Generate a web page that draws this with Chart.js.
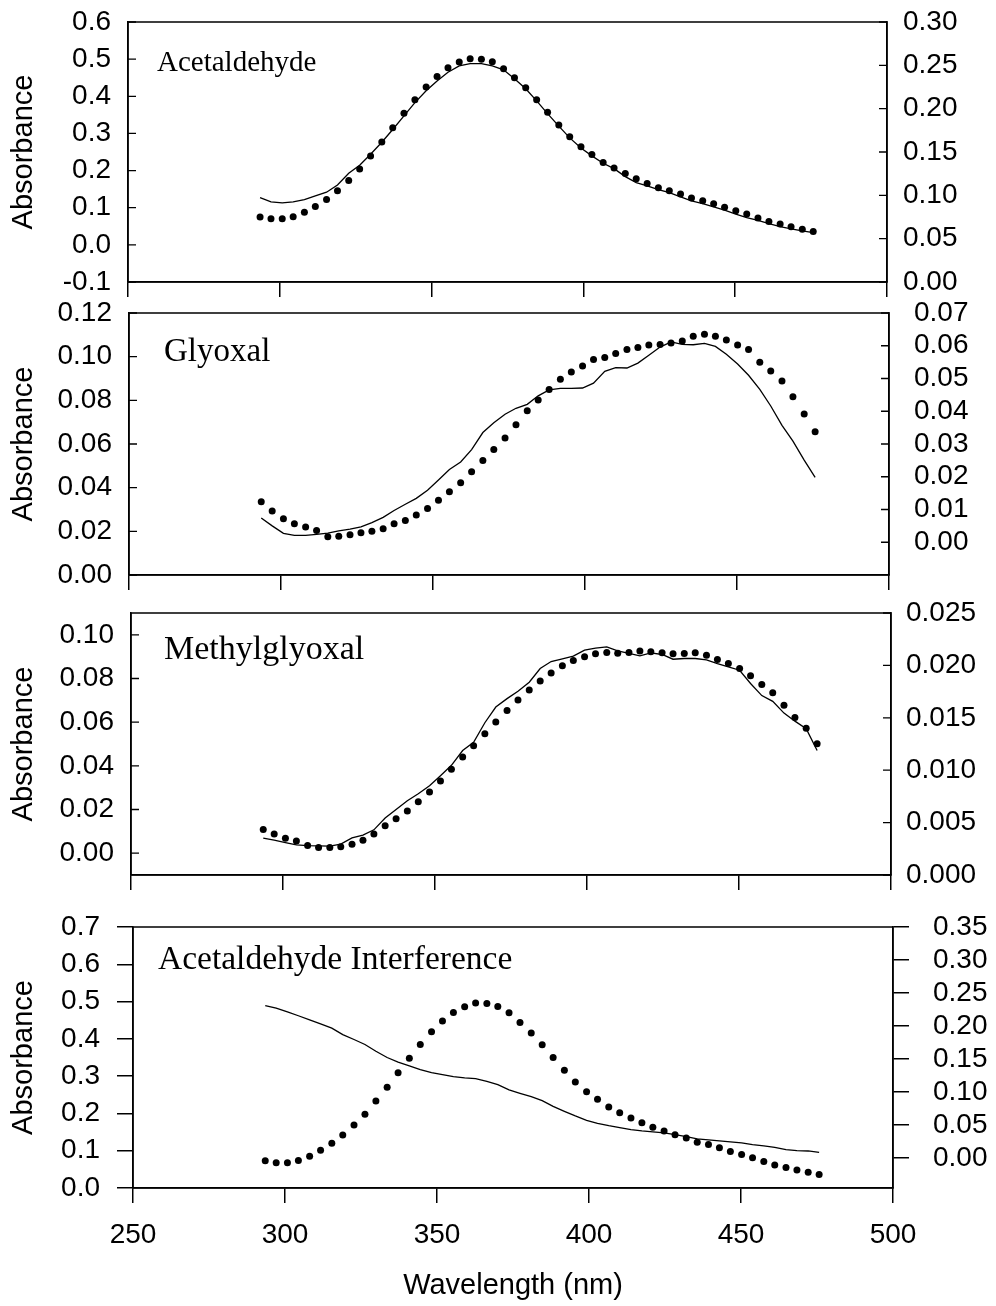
<!DOCTYPE html>
<html>
<head>
<meta charset="utf-8">
<title>Absorbance spectra</title>
<script src="https://cdn.jsdelivr.net/npm/chart.js@4.4.1/dist/chart.umd.min.js"></script>
<style>
  body { margin: 0; background: #fff; }
  #wrap { position: relative; width: 996px; height: 1306px; overflow: hidden; }
  canvas { position: absolute; left: 0; }
</style>
</head>
<body>
<div id="wrap">
  <canvas id="p1"></canvas>
  <canvas id="p2"></canvas>
  <canvas id="p3"></canvas>
  <canvas id="p4"></canvas>
</div>
<script>
// wavelength of every sample (nm)
const wavelengths = [
  293.5, 297.1, 300.8, 304.4, 308.1, 311.7, 315.4, 319.0, 322.7, 326.3,
  329.9, 333.6, 337.2, 340.9, 344.5, 348.2, 351.8, 355.4, 359.1, 362.7,
  366.4, 370.0, 373.7, 377.3, 381.0, 384.6, 388.2, 391.9, 395.5, 399.2,
  402.8, 406.5, 410.1, 413.8, 417.4, 421.0, 424.7, 428.3, 432.0, 435.6,
  439.3, 442.9, 446.5, 450.2, 453.8, 457.5, 461.1, 464.8, 468.4, 472.1,
  475.7
];

// Acetaldehyde: dots on left axis, line on right axis
const acetDots = [
  0.075, 0.070, 0.070, 0.076, 0.088, 0.103, 0.122, 0.146, 0.173, 0.204,
  0.239, 0.277, 0.315, 0.354, 0.391, 0.425, 0.453, 0.477, 0.492, 0.501,
  0.500, 0.493, 0.474, 0.450, 0.423, 0.391, 0.357, 0.323, 0.291, 0.264,
  0.243, 0.222, 0.207, 0.192, 0.178, 0.165, 0.154, 0.146, 0.137, 0.126,
  0.119, 0.111, 0.101, 0.092, 0.083, 0.072, 0.063, 0.056, 0.049, 0.042,
  0.036
];
const acetLine = [
  0.0973, 0.0924, 0.0912, 0.0924, 0.0950, 0.0993, 0.1036, 0.1120, 0.1255, 0.1347,
  0.1474, 0.1613, 0.1760, 0.1917, 0.2070, 0.2206, 0.2320, 0.2420, 0.2494, 0.2520,
  0.2520, 0.2494, 0.2448, 0.2344, 0.2229, 0.2090, 0.1943, 0.1798, 0.1663, 0.1547,
  0.1455, 0.1370, 0.1308, 0.1216, 0.1147, 0.1109, 0.1066, 0.1031, 0.0982, 0.0935,
  0.0904, 0.0866, 0.0828, 0.0782, 0.0743, 0.0712, 0.0673, 0.0639, 0.0612, 0.0589,
  0.0569
];

// Glyoxal
const glyDots = [
  0.0335, 0.0293, 0.0258, 0.0235, 0.0220, 0.0204, 0.0175, 0.0177, 0.0184, 0.0194,
  0.0200, 0.0212, 0.0235, 0.0250, 0.0275, 0.0305, 0.0342, 0.0381, 0.0422, 0.0473,
  0.0525, 0.0575, 0.0627, 0.0688, 0.0752, 0.0802, 0.0850, 0.0896, 0.0930, 0.0957,
  0.0987, 0.0996, 0.1015, 0.1033, 0.1042, 0.1053, 0.1056, 0.1063, 0.1072, 0.1094,
  0.1103, 0.1094, 0.1076, 0.1054, 0.1033, 0.0975, 0.0934, 0.0889, 0.0816, 0.0737,
  0.0656
];
const glyLine = [
  0.0074, 0.0050, 0.0027, 0.0021, 0.0021, 0.0024, 0.0028, 0.0035, 0.0040, 0.0047,
  0.0060, 0.0076, 0.0097, 0.0116, 0.0134, 0.0159, 0.0190, 0.0222, 0.0245, 0.0283,
  0.0335, 0.0365, 0.0391, 0.0409, 0.0421, 0.0447, 0.0465, 0.0470, 0.0470, 0.0471,
  0.0486, 0.0522, 0.0533, 0.0532, 0.0547, 0.0571, 0.0596, 0.0612, 0.0604, 0.0603,
  0.0607, 0.0598, 0.0574, 0.0544, 0.0510, 0.0467, 0.0416, 0.0357, 0.0309, 0.0251,
  0.0198
];

// Methylglyoxal
const mglyDots = [
  0.0108, 0.0088, 0.0068, 0.0056, 0.0035, 0.0026, 0.0026, 0.0029, 0.0041, 0.0059,
  0.0088, 0.0126, 0.0158, 0.0193, 0.0236, 0.0280, 0.0330, 0.0384, 0.0440, 0.0492,
  0.0547, 0.0601, 0.0653, 0.0702, 0.0747, 0.0789, 0.0825, 0.0858, 0.0883, 0.0900,
  0.0913, 0.0919, 0.0916, 0.0919, 0.0926, 0.0922, 0.0918, 0.0913, 0.0915, 0.0918,
  0.0907, 0.0887, 0.0869, 0.0846, 0.0813, 0.0773, 0.0735, 0.0677, 0.0621, 0.0572,
  0.0501
];
const mglyLine = [
  0.00351, 0.00332, 0.00310, 0.00287, 0.00281, 0.00278, 0.00275, 0.00294, 0.00354, 0.00380,
  0.00431, 0.00543, 0.00626, 0.00709, 0.00776, 0.00852, 0.00948, 0.01047, 0.01188, 0.01267,
  0.01453, 0.01603, 0.01683, 0.01753, 0.01839, 0.01970, 0.02037, 0.02062, 0.02088, 0.02146,
  0.02165, 0.02177, 0.02139, 0.02114, 0.02091, 0.02120, 0.02104, 0.02059, 0.02066, 0.02066,
  0.02053, 0.02018, 0.01986, 0.01954, 0.01827, 0.01712, 0.01657, 0.01545, 0.01468, 0.01396,
  0.01188
];

// Acetaldehyde interference
const interfDots = [
  0.073, 0.068, 0.068, 0.074, 0.085, 0.101, 0.120, 0.142, 0.169, 0.198,
  0.233, 0.270, 0.309, 0.348, 0.385, 0.419, 0.448, 0.471, 0.486, 0.496,
  0.495, 0.487, 0.470, 0.444, 0.416, 0.384, 0.350, 0.316, 0.284, 0.258,
  0.238, 0.217, 0.202, 0.188, 0.175, 0.163, 0.153, 0.143, 0.134, 0.123,
  0.117, 0.108, 0.098, 0.090, 0.081, 0.071, 0.062, 0.055, 0.048, 0.042,
  0.036
];
const interfLine = [
  0.2310, 0.2270, 0.2215, 0.2155, 0.2094, 0.2033, 0.1967, 0.1870, 0.1795, 0.1720,
  0.1618, 0.1522, 0.1451, 0.1396, 0.1340, 0.1294, 0.1264, 0.1234, 0.1214, 0.1203,
  0.1162, 0.1112, 0.1032, 0.0980, 0.0930, 0.0870, 0.0783, 0.0707, 0.0637, 0.0570,
  0.0525, 0.0490, 0.0460, 0.0430, 0.0410, 0.0395, 0.0380, 0.0354, 0.0323, 0.0288,
  0.0273, 0.0258, 0.0243, 0.0228, 0.0202, 0.0182, 0.0161, 0.0126, 0.0111, 0.0106,
  0.0085
];

// tick values
const xTicks = [250, 300, 350, 400, 450, 500];
const p1LeftTicks = [-0.1, 0, 0.1, 0.2, 0.3, 0.4, 0.5, 0.6];
const p1RightTicks = [0, 0.05, 0.10, 0.15, 0.20, 0.25, 0.30];
const p2LeftTicks = [0, 0.02, 0.04, 0.06, 0.08, 0.10, 0.12];
const p2RightTicks = [0, 0.01, 0.02, 0.03, 0.04, 0.05, 0.06, 0.07];
const p3LeftTicks = [0, 0.02, 0.04, 0.06, 0.08, 0.10];
const p3RightTicks = [0, 0.005, 0.010, 0.015, 0.020, 0.025];
const p4LeftTicks = [0, 0.1, 0.2, 0.3, 0.4, 0.5, 0.6, 0.7];
const p4RightTicks = [0, 0.05, 0.10, 0.15, 0.20, 0.25, 0.30, 0.35];

Chart.defaults.font.family = '"Liberation Sans", Arial, sans-serif';
Chart.defaults.color = '#000';

// frame, inward ticks and the panel name
const frameBox = {
  id: 'frameBox',
  afterDatasetsDraw(chart, args, opts) {
    const { ctx, chartArea: a } = chart;
    ctx.save();
    ctx.strokeStyle = '#000';
    ctx.lineWidth = 1.5;
    ctx.strokeRect(a.left, a.top, a.right - a.left, a.bottom - a.top);
    if (opts.inTick) {
      ctx.lineWidth = 1.3;
      ctx.beginPath();
      for (const t of chart.scales.y.ticks) {
        const py = chart.scales.y.getPixelForValue(t.value);
        ctx.moveTo(a.left, py);
        ctx.lineTo(a.left + opts.inTick, py);
      }
      for (const t of chart.scales.y2.ticks) {
        const py = chart.scales.y2.getPixelForValue(t.value);
        ctx.moveTo(a.right - opts.inTick, py);
        ctx.lineTo(a.right, py);
      }
      ctx.stroke();
    }
    ctx.fillStyle = '#000';
    ctx.font = opts.labelSize + 'px "Liberation Serif", "Times New Roman", serif';
    ctx.textBaseline = 'alphabetic';
    ctx.fillText(opts.label, a.left + opts.labelDx, a.top + opts.labelDy);
    ctx.restore();
  }
};

const points = ys => ys.map((y, i) => ({ x: wavelengths[i], y: y }));

function makePanel(id, p) {
  const canvas = document.getElementById(id);
  const padTop = 48;
  canvas.width = 996;
  canvas.height = padTop + (p.bottom - p.top) + p.below;
  canvas.style.top = (p.top - padTop) + 'px';

  new Chart(canvas, {
    type: 'line',
    data: {
      datasets: [
        {
          data: points(p.dots),
          yAxisID: 'y',
          showLine: false,
          pointRadius: 3.5,
          pointBackgroundColor: '#000',
          pointBorderWidth: 0
        },
        {
          data: points(p.line),
          yAxisID: 'y2',
          borderColor: '#000',
          borderWidth: 1.3,
          pointRadius: 0
        }
      ]
    },
    options: {
      responsive: false,
      animation: false,
      events: [],
      layout: { padding: { top: padTop, left: 7, right: 0, bottom: 0 } },
      plugins: {
        legend: { display: false },
        tooltip: { enabled: false },
        frameBox: {
          inTick: p.outTicks ? 0 : 8,
          label: p.label,
          labelSize: p.labelSize,
          labelDx: p.labelDx,
          labelDy: p.labelDy
        }
      },
      scales: {
        x: {
          type: 'linear',
          min: 250,
          max: 500,
          afterBuildTicks: s => { s.ticks = xTicks.map(v => ({ value: v })); },
          afterFit: s => { s.height = p.below; },
          grid: { drawOnChartArea: false, drawTicks: true, tickLength: 15, color: '#000', lineWidth: 1.5 },
          border: { color: '#000', width: 1.5 },
          ticks: { display: p.outTicks, padding: 15, autoSkip: false, maxRotation: 0, font: { size: 28 } },
          title: { display: p.outTicks, text: 'Wavelength (nm)', font: { size: 29 }, padding: { top: 0, bottom: 3 } }
        },
        y: {
          position: 'left',
          min: p.leftRange[0],
          max: p.leftRange[1],
          afterBuildTicks: s => { s.ticks = p.leftTicks.map(v => ({ value: v })); },
          afterFit: s => { s.width = p.left - 7; },
          grid: { drawOnChartArea: false, drawTicks: p.outTicks, tickLength: 16, color: '#000', lineWidth: 1.5 },
          border: { color: '#000', width: 1.5 },
          ticks: { padding: 17, autoSkip: false, font: { size: 28 }, callback: v => v.toFixed(p.leftDec) },
          title: { display: true, text: 'Absorbance', font: { size: 29 }, padding: 0 }
        },
        y2: {
          position: 'right',
          min: p.rightRange[0],
          max: p.rightRange[1],
          afterBuildTicks: s => { s.ticks = p.rightTicks.map(v => ({ value: v })); },
          afterFit: s => { s.width = 996 - p.right; },
          grid: { drawOnChartArea: false, drawTicks: p.outTicks, tickLength: 16, color: '#000', lineWidth: 1.5 },
          border: { color: '#000', width: 1.5 },
          ticks: { padding: p.rightPad, autoSkip: false, font: { size: 28 }, callback: v => v.toFixed(p.rightDec) }
        }
      }
    },
    plugins: [frameBox]
  });
}

makePanel('p1', {
  top: 22, bottom: 282, left: 128, right: 887, below: 48, outTicks: false,
  dots: acetDots, line: acetLine,
  leftRange: [-0.1, 0.6], leftTicks: p1LeftTicks, leftDec: 1,
  rightRange: [0, 0.30], rightTicks: p1RightTicks, rightDec: 2, rightPad: 16,
  label: 'Acetaldehyde', labelSize: 29, labelDx: 29, labelDy: 49
});

makePanel('p2', {
  top: 313, bottom: 575, left: 129, right: 889, below: 48, outTicks: false,
  dots: glyDots, line: glyLine,
  leftRange: [0, 0.12], leftTicks: p2LeftTicks, leftDec: 2,
  rightRange: [-0.01, 0.07], rightTicks: p2RightTicks, rightDec: 2, rightPad: 25,
  label: 'Glyoxal', labelSize: 33, labelDx: 35, labelDy: 48
});

makePanel('p3', {
  top: 613, bottom: 875, left: 131, right: 891, below: 48, outTicks: false,
  dots: mglyDots, line: mglyLine,
  leftRange: [-0.01, 0.11], leftTicks: p3LeftTicks, leftDec: 2,
  rightRange: [0, 0.025], rightTicks: p3RightTicks, rightDec: 3, rightPad: 15,
  label: 'Methylglyoxal', labelSize: 34, labelDx: 33, labelDy: 46
});

makePanel('p4', {
  top: 927, bottom: 1188, left: 133, right: 893, below: 118, outTicks: true,
  dots: interfDots, line: interfLine,
  leftRange: [0, 0.7], leftTicks: p4LeftTicks, leftDec: 1,
  rightRange: [-0.0455, 0.35], rightTicks: p4RightTicks, rightDec: 2, rightPad: 24,
  label: 'Acetaldehyde Interference', labelSize: 33.5, labelDx: 25, labelDy: 42
});
</script>
</body>
</html>
